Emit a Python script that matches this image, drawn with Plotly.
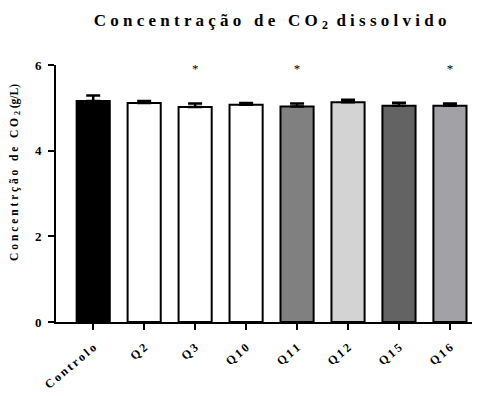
import plotly.graph_objects as go

categories = ["Controlo", "Q2", "Q3", "Q10", "Q11", "Q12", "Q15", "Q16"]
values = [5.16, 5.11, 5.02, 5.07, 5.03, 5.13, 5.05, 5.05]
errors = [0.13, 0.05, 0.08, 0.04, 0.07, 0.06, 0.07, 0.05]
colors = ["#000000", "#ffffff", "#ffffff", "#ffffff", "#808080", "#d3d3d3", "#636363", "#a2a1a6"]
significant = ["Q3", "Q11", "Q16"]
star_level = 5.88
y_ticks = [0, 2, 4, 6]

def spaced(s, sep=" "):
    return sep.join(list(s))

tick_text = [spaced(c, "\u2009") for c in categories]
FONT = "Liberation Serif"

fig = go.Figure()
fig.add_trace(go.Bar(
    x=categories, y=values, width=0.65,
    marker=dict(color=colors, line=dict(color="black", width=2)),
    error_y=dict(type="data", symmetric=False, array=errors,
                 arrayminus=[0] * len(errors), color="black", thickness=2.5, width=7),
    showlegend=False,
))
fig.add_trace(go.Scatter(
    x=significant, y=[star_level] * len(significant), mode="text", text=["*"] * len(significant),
    textfont=dict(family=FONT, size=13, color="black"), showlegend=False, hoverinfo="skip",
))

fig.update_layout(
    width=480, height=396,
    margin=dict(l=48, r=9, t=57, b=82),
    plot_bgcolor="white", paper_bgcolor="white",
    title=dict(text="<b>C o n c e n t r a ç ã o &nbsp; d e &nbsp; C O <sub>2</sub>&nbsp; d i s s o l v i d o</b>",
               x=0.546, xanchor="center", y=0.97, yanchor="middle",
               font=dict(family=FONT, size=17, color="black")),
    font=dict(family=FONT, color="black"),
)
fig.update_xaxes(
    range=[-0.73, 7.57], showline=True, linecolor="black", linewidth=2, automargin=False,
    ticks="outside", ticklen=6, tickwidth=2, tickcolor="black",
    tickmode="array", tickvals=categories, ticktext=["<b>%s</b>" % t for t in tick_text],
    tickangle=-40, tickfont=dict(family=FONT, size=12, color="black"), showgrid=False,
    ticklabelstandoff=6,
)
fig.update_yaxes(
    range=[0, 6], showline=True, linecolor="black", linewidth=2, automargin=False,
    ticks="outside", ticklen=6, tickwidth=2, tickcolor="black",
    tickvals=y_ticks, ticktext=["<b>%d</b>" % v for v in y_ticks],
    tickfont=dict(family=FONT, size=13, color="black"), showgrid=False, zeroline=False,
    ticklabelstandoff=4,
)
fig.add_annotation(
    text="<b>C o n c e n t r ç ã o &nbsp; d e &nbsp; C O <sub>2</sub> (g/L)</b>",
    textangle=-90, xref="paper", yref="paper", x=-0.097, y=0.584, xanchor="center", yanchor="middle",
    showarrow=False, font=dict(family=FONT, size=11.5, color="black"),
)
fig.write_html("out.html")
